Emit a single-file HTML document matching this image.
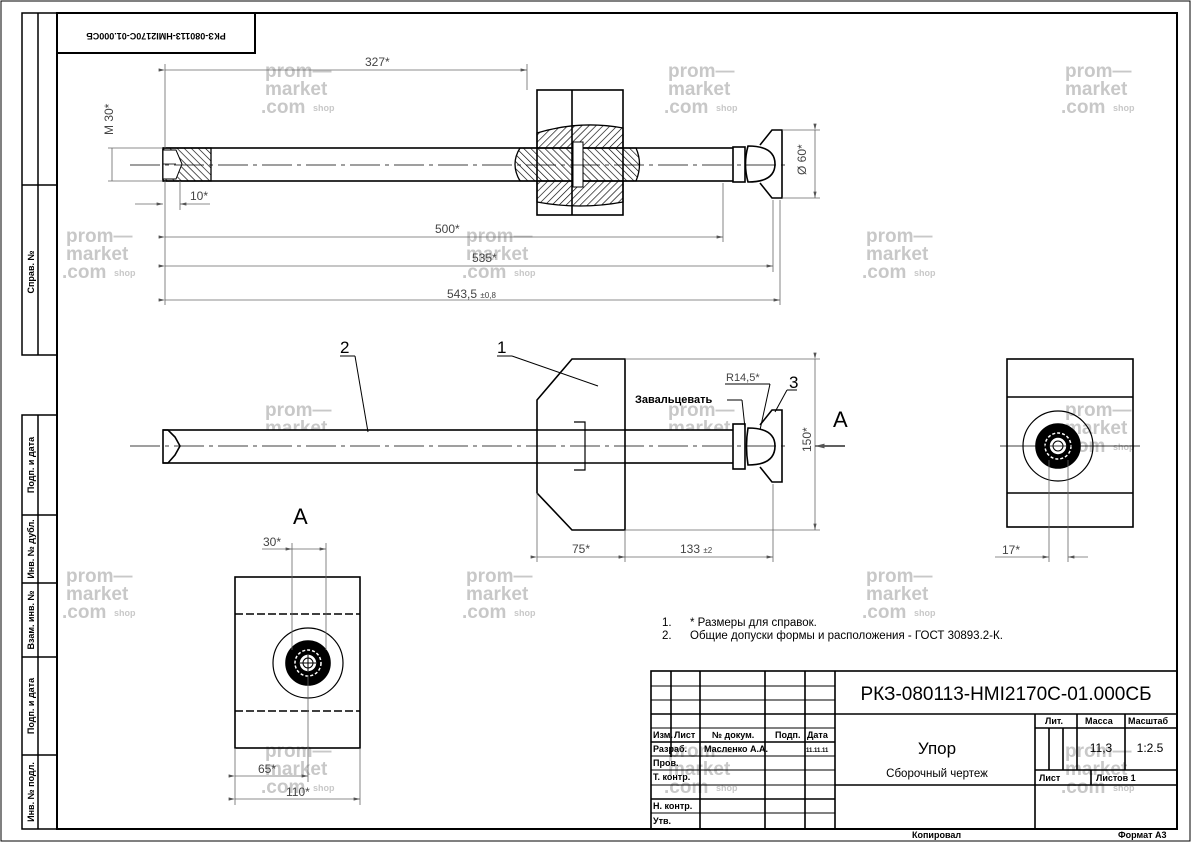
<!DOCTYPE html>
<html><head><meta charset="utf-8"><style>
html,body{margin:0;padding:0;background:#fff}
svg{display:block}
text{font-family:"Liberation Sans","Noto Sans CJK SC",sans-serif}
.wm{fill:#c8c8c8;font-weight:bold;font-size:19px}
.wms{fill:#c8c8c8;font-size:9px;font-weight:bold}
.d{stroke:#666;stroke-width:0.8;fill:none}
.dt{fill:#444;font-size:12px}
.t{fill:#000;font-size:9px;font-weight:bold}
</style></head><body>
<svg width="1191" height="842" viewBox="0 0 1191 842" xmlns="http://www.w3.org/2000/svg">
<defs>
<pattern id="h1" width="5" height="5" patternUnits="userSpaceOnUse" patternTransform="rotate(45)"><line x1="0" y1="0" x2="0" y2="5" stroke="#000" stroke-width="1.3"/></pattern>
<pattern id="h2" width="5" height="5" patternUnits="userSpaceOnUse" patternTransform="rotate(-45)"><line x1="0" y1="0" x2="0" y2="5" stroke="#000" stroke-width="1.3"/></pattern>
<marker id="ar" markerWidth="8" markerHeight="4" refX="8" refY="2" orient="auto"><path d="M0,0 L8,2 L0,4z" fill="#555"/></marker>
<g id="wm">
<text class="wm" x="0" y="0">prom—</text><text class="wm" x="0" y="18">market</text><text class="wm" x="-4" y="36">.com</text><text class="wms" x="48" y="34">shop</text>
</g>
</defs>
<rect x="1" y="1" width="1189" height="840" fill="none" stroke="#000" stroke-width="1"/>
<rect x="57" y="13" width="1120" height="816" fill="none" stroke="#000" stroke-width="2"/>
<!-- left sidebar -->
<g stroke="#000" stroke-width="1.5" fill="none">
<rect x="22" y="13" width="35" height="342"/><line x1="38" y1="13" x2="38" y2="355"/><line x1="22" y1="185" x2="57" y2="185"/>
<rect x="22" y="415" width="35" height="414"/><line x1="38" y1="415" x2="38" y2="829"/>
<line x1="22" y1="515" x2="57" y2="515"/><line x1="22" y1="583" x2="57" y2="583"/><line x1="22" y1="657" x2="57" y2="657"/><line x1="22" y1="755" x2="57" y2="755"/>
</g>
<g class="t" font-size="8">
<text transform="translate(34,272) rotate(-90)" text-anchor="middle">Справ. №</text>
<text transform="translate(34,465) rotate(-90)" text-anchor="middle">Подп. и дата</text>
<text transform="translate(34,549) rotate(-90)" text-anchor="middle">Инв. № дубл.</text>
<text transform="translate(34,620) rotate(-90)" text-anchor="middle">Взам. инв. №</text>
<text transform="translate(34,706) rotate(-90)" text-anchor="middle">Подп. и дата</text>
<text transform="translate(34,792) rotate(-90)" text-anchor="middle">Инв. № подл.</text>
</g>
<rect x="57" y="13" width="198" height="40" fill="none" stroke="#000" stroke-width="2"/>
<text transform="translate(156,33) rotate(180)" text-anchor="middle" class="t" font-size="10" font-weight="normal">РКЗ-080113-НМI2170С-01.000СБ</text>

<!-- watermarks -->
<use href="#wm" x="265" y="77"/><use href="#wm" x="668" y="77"/><use href="#wm" x="1065" y="77"/>
<use href="#wm" x="66" y="242"/><use href="#wm" x="466" y="242"/><use href="#wm" x="866" y="242"/>
<use href="#wm" x="265" y="416"/><use href="#wm" x="668" y="416"/><use href="#wm" x="1065" y="416"/>
<use href="#wm" x="66" y="582"/><use href="#wm" x="466" y="582"/><use href="#wm" x="866" y="582"/>
<use href="#wm" x="265" y="757"/><use href="#wm" x="668" y="757"/><use href="#wm" x="1065" y="757"/>

<!-- TOP VIEW (section) -->
<g stroke="#000" stroke-width="1.6" fill="none">
<rect x="163" y="148" width="572" height="33"/>
<rect x="537" y="90" width="86" height="125"/><line x1="572" y1="90" x2="572" y2="215"/>
</g>
<path d="M537,133 Q580,120 623,128 L623,148 L537,148z" fill="url(#h1)" stroke="#000" stroke-width="1.3"/>
<path d="M537,181 L623,181 L623,202 Q580,210 537,202z" fill="url(#h1)" stroke="#000" stroke-width="1.3"/>
<path d="M520,148 L636,148 Q643,164 636,181 L520,181 Q510,164 520,148z" fill="url(#h2)" stroke="#000" stroke-width="1.3"/>
<rect x="573" y="142" width="10" height="45" fill="#fff" stroke="#000" stroke-width="1"/>
<rect x="163" y="148" width="48" height="33" fill="url(#h2)" stroke="#000" stroke-width="1.3"/>
<path d="M163,150 L176,150 L182,164 L176,179 L163,179z" fill="#fff" stroke="#000" stroke-width="1"/>
<line x1="163" y1="164" x2="176" y2="164" stroke="#000" stroke-width="0.8"/>
<g stroke="#000" stroke-width="1.6" fill="#fff">
<rect x="733" y="147" width="12" height="35"/>
<path d="M760,145 L772,130 L782,130 L782,198 L772,198 L760,183"/>
<path d="M748,146 Q775,146 775,164 Q775,182 748,182 Q743,164 748,146z"/>
</g>
<line x1="130" y1="165" x2="790" y2="165" stroke="#000" stroke-width="0.8" stroke-dasharray="30,5,4,5"/>
<!-- dims top -->
<g class="d">
<line x1="165" y1="64" x2="165" y2="148"/><line x1="527" y1="64" x2="527" y2="90"/>
<line x1="165" y1="70" x2="527" y2="70" marker-start="url(#ar)" marker-end="url(#ar)"/>
<line x1="108" y1="148" x2="163" y2="148"/><line x1="108" y1="181" x2="163" y2="181"/>
<line x1="112" y1="148" x2="112" y2="181"/>
<line x1="180" y1="181" x2="180" y2="210"/><line x1="135" y1="204" x2="163" y2="204" marker-end="url(#ar)"/><line x1="210" y1="204" x2="180" y2="204" marker-end="url(#ar)"/>
<line x1="165" y1="181" x2="165" y2="305"/>
<line x1="723" y1="183" x2="723" y2="242"/><line x1="773" y1="200" x2="773" y2="272"/><line x1="780" y1="200" x2="780" y2="305"/>
<line x1="165" y1="237" x2="723" y2="237" marker-start="url(#ar)" marker-end="url(#ar)"/>
<line x1="165" y1="266" x2="773" y2="266" marker-start="url(#ar)" marker-end="url(#ar)"/>
<line x1="165" y1="300" x2="780" y2="300" marker-start="url(#ar)" marker-end="url(#ar)"/>
<line x1="782" y1="130" x2="820" y2="130"/><line x1="782" y1="198" x2="820" y2="198"/><line x1="815" y1="130" x2="815" y2="198" marker-start="url(#ar)" marker-end="url(#ar)"/>
</g>
<g class="dt">
<text x="365" y="66">327*</text>
<text transform="translate(113,135) rotate(-90)">M 30*</text>
<text x="190" y="200">10*</text>
<text x="435" y="233">500*</text>
<text x="472" y="262">535*</text>
<text x="447" y="298">543,5 <tspan font-size="8">±0,8</tspan></text>
<text transform="translate(806,175) rotate(-90)">Ø 60*</text>
</g>

<!-- FRONT VIEW -->
<g stroke="#000" stroke-width="1.6" fill="none">
<rect x="163" y="430" width="572" height="33" fill="#fff"/>
<path d="M572,359 L625,359 L625,530 L572,530 L537,493 L537,400z" fill="#fff"/>
<line x1="537" y1="430" x2="625" y2="430"/><line x1="537" y1="463" x2="625" y2="463"/>
<path d="M574,422 L585,422 L585,470 L574,470" stroke-width="1.2"/>
<path d="M163,430 L168,430 L175,437 L180,446 L175,455 L168,463 L163,463"/>
<rect x="733" y="424" width="12" height="45" fill="#fff"/>
<path d="M760,425 L772,410 L782,410 L782,482 L772,482 L760,467" fill="#fff"/>
<path d="M748,428 Q775,428 775,446 Q775,465 748,465 Q745,446 748,428z" fill="#fff"/>
</g>
<line x1="130" y1="446" x2="790" y2="446" stroke="#000" stroke-width="0.8" stroke-dasharray="30,5,4,5"/>
<g stroke="#000" stroke-width="1" fill="none">
<line x1="340" y1="356" x2="355" y2="356"/><line x1="355" y1="356" x2="368" y2="432"/>
<line x1="497" y1="356" x2="512" y2="356"/><line x1="512" y1="356" x2="598" y2="386"/>
<line x1="727" y1="400" x2="742" y2="400"/><line x1="742" y1="400" x2="745" y2="428"/>
<line x1="725" y1="384" x2="770" y2="384"/><line x1="770" y1="384" x2="760" y2="430"/>
<line x1="787" y1="390" x2="797" y2="390"/><line x1="787" y1="390" x2="775" y2="412"/>
</g>
<g class="dt" fill="#000">
<text x="340" y="353" font-size="17" fill="#000">2</text>
<text x="497" y="353" font-size="17" fill="#000">1</text>
<text x="789" y="388" font-size="17" fill="#000">3</text>
<text x="726" y="381" font-size="11">R14,5*</text>
<text x="635" y="403" font-size="11" fill="#000" font-weight="bold">Завальцевать</text>
<text x="833" y="427" font-size="22" fill="#000">A</text>
</g>
<line x1="845" y1="446" x2="815" y2="446" stroke="#000" stroke-width="1.2" marker-end="url(#ar)"/>
<g class="d">
<line x1="625" y1="359" x2="820" y2="359"/><line x1="625" y1="530" x2="820" y2="530"/>
<line x1="815" y1="359" x2="815" y2="530" marker-start="url(#ar)" marker-end="url(#ar)"/>
<line x1="537" y1="493" x2="537" y2="562"/><line x1="625" y1="530" x2="625" y2="562"/><line x1="773" y1="484" x2="773" y2="562"/>
<line x1="537" y1="557" x2="625" y2="557" marker-start="url(#ar)" marker-end="url(#ar)"/>
<line x1="625" y1="557" x2="773" y2="557" marker-start="url(#ar)" marker-end="url(#ar)"/>
</g>
<g class="dt"><text x="572" y="553">75*</text><text x="680" y="553">133 <tspan font-size="8">±2</tspan></text><text transform="translate(811,452) rotate(-90)">150*</text></g>

<!-- RIGHT VIEW -->
<g stroke="#000" stroke-width="1.6" fill="none">
<rect x="1007" y="359" width="126" height="168"/>
<line x1="1007" y1="397" x2="1133" y2="397"/><line x1="1007" y1="493" x2="1133" y2="493"/>
<circle cx="1058" cy="446" r="35" stroke-width="1.2"/>
<circle cx="1058" cy="446" r="22" fill="#000"/>
<circle cx="1058" cy="446" r="13" stroke="#fff" stroke-width="1.5" stroke-dasharray="3,2"/>
<circle cx="1058" cy="446" r="9" fill="#fff" stroke="#000"/>
<circle cx="1058" cy="446" r="5" stroke="#000" stroke-width="1"/>
</g>
<line x1="1000" y1="446" x2="1140" y2="446" stroke="#000" stroke-width="0.8"/>
<g class="d"><line x1="1049" y1="460" x2="1049" y2="562"/><line x1="1068" y1="460" x2="1068" y2="562"/>
<line x1="995" y1="557" x2="1049" y2="557" marker-end="url(#ar)"/><line x1="1088" y1="557" x2="1068" y2="557" marker-end="url(#ar)"/></g>
<text class="dt" x="1002" y="554">17*</text>

<!-- VIEW A -->
<text x="293" y="524" font-size="22" fill="#000">A</text>
<g stroke="#000" stroke-width="1.6" fill="none">
<rect x="235" y="577" width="125" height="171"/>
<line x1="235" y1="614" x2="360" y2="614" stroke-dasharray="8,3"/><line x1="235" y1="711" x2="360" y2="711" stroke-dasharray="8,3"/>
<circle cx="308" cy="663" r="35" stroke-width="1.2"/>
<circle cx="308" cy="663" r="22" fill="#000"/>
<circle cx="308" cy="663" r="13" stroke="#fff" stroke-width="1.5" stroke-dasharray="3,2"/>
<circle cx="308" cy="663" r="9" fill="#fff" stroke="#000"/>
<circle cx="308" cy="663" r="5" stroke="#000" stroke-width="1"/>
</g>
<line x1="300" y1="663" x2="316" y2="663" stroke="#000"/><line x1="308" y1="655" x2="308" y2="671" stroke="#000"/>
<g class="d">
<line x1="292" y1="543" x2="292" y2="650"/><line x1="326" y1="543" x2="326" y2="650"/>
<line x1="262" y1="549" x2="292" y2="549"/><line x1="292" y1="549" x2="326" y2="549" marker-start="url(#ar)" marker-end="url(#ar)"/>
<line x1="308" y1="675" x2="308" y2="782"/>
<line x1="235" y1="748" x2="235" y2="805"/><line x1="360" y1="748" x2="360" y2="805"/>
<line x1="235" y1="776" x2="308" y2="776" marker-start="url(#ar)" marker-end="url(#ar)"/>
<line x1="235" y1="799" x2="360" y2="799" marker-start="url(#ar)" marker-end="url(#ar)"/>
</g>
<g class="dt"><text x="263" y="546">30*</text><text x="258" y="773">65*</text><text x="286" y="796">110*</text></g>

<!-- notes -->
<g fill="#000" font-size="11.5">
<text x="662" y="626">1.</text><text x="690" y="626">* Размеры для справок.</text>
<text x="662" y="639">2.</text><text x="690" y="639">Общие допуски формы и расположения - ГОСТ 30893.2-К.</text>
</g>

<!-- title block -->
<g stroke="#000" stroke-width="1.6" fill="none">
<rect x="651" y="671" width="526" height="158"/>
<line x1="835" y1="671" x2="835" y2="829"/>
<line x1="671" y1="671" x2="671" y2="757"/><line x1="700" y1="671" x2="700" y2="829"/><line x1="765" y1="671" x2="765" y2="829"/><line x1="805" y1="671" x2="805" y2="829"/>
<line x1="651" y1="714" x2="1177" y2="714"/>
<line x1="1035" y1="714" x2="1035" y2="829"/>
<line x1="1077" y1="714" x2="1077" y2="770"/><line x1="1125" y1="714" x2="1125" y2="770"/>
<line x1="1035" y1="728" x2="1177" y2="728"/>
<line x1="1049" y1="728" x2="1049" y2="770"/><line x1="1063" y1="728" x2="1063" y2="770"/>
<line x1="1035" y1="770" x2="1177" y2="770"/><line x1="1035" y1="785" x2="1177" y2="785"/><line x1="1091" y1="770" x2="1091" y2="785"/>
<line x1="835" y1="785" x2="1035" y2="785"/>
<line x1="651" y1="742" x2="835" y2="742"/><line x1="651" y1="799" x2="835" y2="799"/>
</g>
<g stroke="#000" stroke-width="0.9">
<line x1="651" y1="686" x2="835" y2="686"/><line x1="651" y1="700" x2="835" y2="700"/>
<line x1="651" y1="728" x2="835" y2="728"/><line x1="651" y1="756" x2="835" y2="756"/><line x1="651" y1="770" x2="835" y2="770"/><line x1="651" y1="785" x2="835" y2="785"/><line x1="651" y1="813" x2="835" y2="813"/>
</g>
<g class="t" font-size="8">
<text x="653" y="738">Изм.</text><text x="674" y="738">Лист</text><text x="712" y="738">№ докум.</text><text x="775" y="738">Подп.</text><text x="807" y="738">Дата</text>
<text x="653" y="752">Разраб.</text><text x="704" y="752">Масленко А.А.</text><text x="806" y="752" font-size="6">11.11.11</text>
<text x="653" y="766">Пров.</text><text x="653" y="780">Т. контр.</text><text x="653" y="809">Н. контр.</text><text x="653" y="824">Утв.</text>
<text x="1045" y="724">Лит.</text><text x="1085" y="724">Масса</text><text x="1128" y="724">Масштаб</text>
<text x="1039" y="781">Лист</text><text x="1096" y="781">Листов 1</text>
<text x="912" y="838">Копировал</text><text x="1118" y="838">Формат А3</text>
</g>
<text x="1006" y="700" font-size="19" text-anchor="middle" fill="#000">РКЗ-080113-НМI2170С-01.000СБ</text>
<text x="937" y="754" font-size="17" text-anchor="middle" fill="#000">Упор</text>
<text x="937" y="777" font-size="11.5" text-anchor="middle" fill="#000">Сборочный чертеж</text>
<text x="1101" y="752" font-size="12" text-anchor="middle" fill="#000">11,3</text>
<text x="1150" y="752" font-size="12" text-anchor="middle" fill="#000">1:2.5</text>
</svg>
</body></html>
